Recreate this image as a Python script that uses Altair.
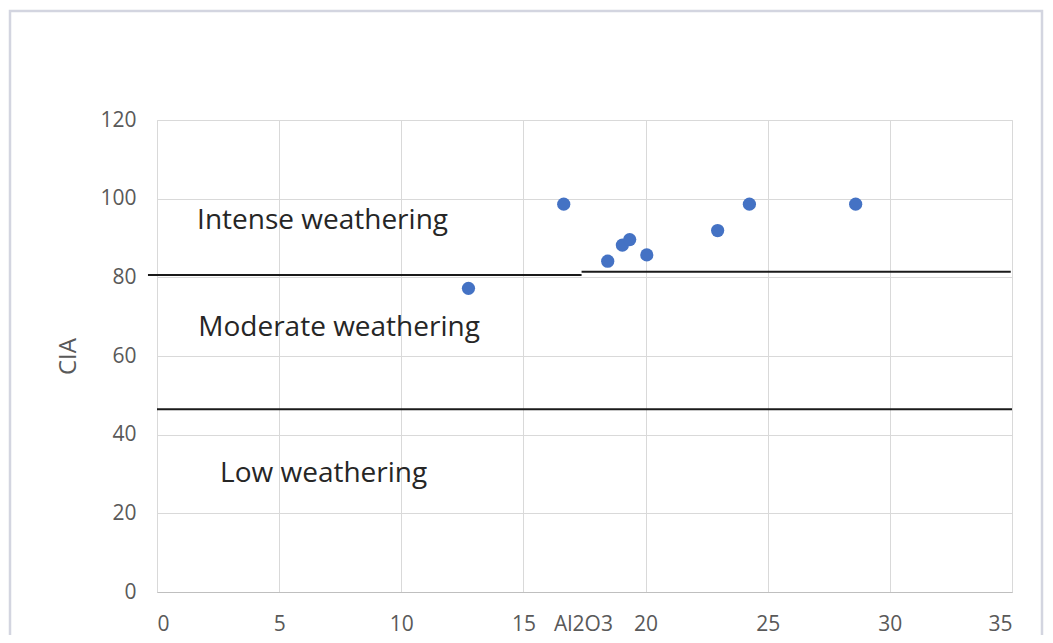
import altair as alt
import pandas as pd

# Scatter data: Al2O3 vs CIA
al2o3 = [12.75, 16.65, 18.45, 19.05, 19.35, 20.05, 22.95, 24.25, 28.6]
cia = [77.2, 98.6, 84.1, 88.2, 89.6, 85.7, 91.9, 98.6, 98.6]

# Threshold lines (drawn boundaries)
line_x_start = [-0.37, 17.38, 0.0]
line_x_end = [17.38, 34.95, 35.0]
line_y = [80.6, 81.4, 46.45]

# Zone labels
zone_text = ["Intense weathering", "Moderate weathering", "Low weathering"]
zone_x = [1.64, 1.69, 2.58]
zone_y = [92.2, 65.1, 28.0]

x_ticks = [0, 5, 10, 15, 20, 25, 30, 35]
y_ticks = [0, 20, 40, 60, 80, 100, 120]

FONT = "Open Sans"
GREY = "#595959"

pts = pd.DataFrame({"Al2O3": al2o3, "CIA": cia})
lines = pd.DataFrame({"x1": line_x_start, "x2": line_x_end, "y": line_y})
labels = pd.DataFrame({"text": zone_text, "x": zone_x, "y": zone_y})

xscale = alt.Scale(domain=[0, 35], nice=False, zero=False)
yscale = alt.Scale(domain=[0, 120], nice=False)

xaxis = alt.Axis(
    values=x_ticks, title="Al2O3", grid=True, gridColor="#d9d9d9", gridWidth=1,
    ticks=False, tickSize=0, domain=True, domainColor="#bfbfbf", domainWidth=1,
    labelFont=FONT, labelFontSize=21, labelColor=GREY, labelPadding=21,
    titleFont=FONT, titleFontSize=21, titleColor=GREY, titleFontWeight="normal",
    titleX=426, titleY=21, titleAlign="center", titleBaseline="top",
)
yaxis = alt.Axis(
    values=y_ticks, title="CIA", grid=True, gridColor="#d9d9d9", gridWidth=1,
    ticks=False, tickSize=0, domain=False,
    labelFont=FONT, labelFontSize=21, labelColor=GREY, labelPadding=21,
    titleFont=FONT, titleFontSize=24, titleColor=GREY, titleFontWeight="normal",
    titleX=-89, titleY=236, titleAlign="center", titleBaseline="middle", titleAngle=-90,
)

frame = alt.Chart(pd.DataFrame({"a": [0]})).mark_rect(
    fill=None, stroke="#d3d5e0", strokeWidth=2.5, clip=False
).encode(
    x=alt.value(-147), x2=alt.value(885), y=alt.value(-109), y2=alt.value(540)
)

points = alt.Chart(pts).mark_circle(size=175, color="#4472c4", opacity=1).encode(
    x=alt.X("Al2O3:Q", scale=xscale, axis=xaxis),
    y=alt.Y("CIA:Q", scale=yscale, axis=yaxis),
)

rules = alt.Chart(lines).mark_rule(color="#1a1a1a", strokeWidth=2).encode(
    x=alt.X("x1:Q", scale=xscale),
    x2="x2:Q",
    y=alt.Y("y:Q", scale=yscale),
)

texts = alt.Chart(labels).mark_text(
    align="left", baseline="alphabetic", font=FONT, fontSize=28, color="#262626"
).encode(
    x=alt.X("x:Q", scale=xscale),
    y=alt.Y("y:Q", scale=yscale),
    text="text:N",
)

chart = alt.layer(frame, rules, points, texts).properties(
    width=855, height=472,
    autosize=alt.AutoSizeParams(type="none"),
    padding={"left": 149, "top": 112, "right": 33, "bottom": 43},
).configure_view(stroke=None).configure(background="white")

chart.save("out.html", embed_options={"renderer": "svg", "actions": False})
